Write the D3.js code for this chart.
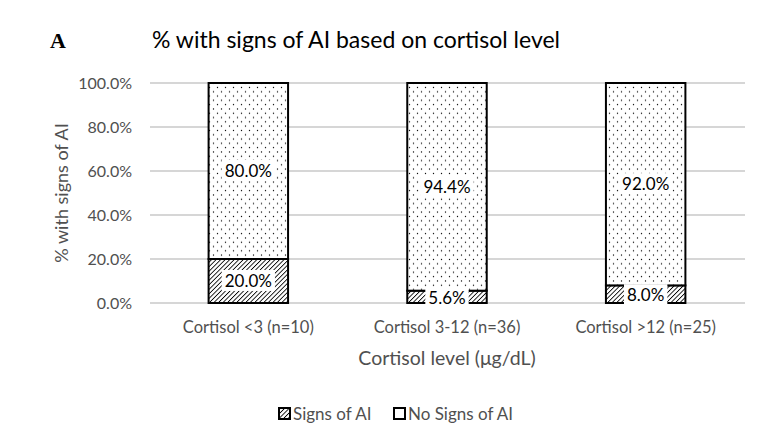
<!DOCTYPE html>
<html><head><meta charset="utf-8">
<script src="https://cdn.jsdelivr.net/npm/d3@7"></script>
<style>body{margin:0;background:#fff}svg{display:block}text{font-family:Lato,"Open Sans",sans-serif;fill:#262626}</style>
</head><body>
<svg id="c" width="780" height="444"></svg>
<script>
const categories = ["Cortisol <3 (n=10)", "Cortisol 3-12 (n=36)", "Cortisol >12 (n=25)"];
const signsAI = [20.0, 5.6, 8.0];
const noSignsAI = [80.0, 94.4, 92.0];
const yTicks = [0, 20, 40, 60, 80, 100];
const seriesNames = ["Signs of AI", "No Signs of AI"];

const svg = d3.select("#c");
const defs = svg.append("defs");
const hatch = defs.append("pattern").attr("id","hatch").attr("patternUnits","userSpaceOnUse")
  .attr("width",3.2).attr("height",4).attr("patternTransform","rotate(45)");
hatch.append("rect").attr("width",3.2).attr("height",4).attr("fill","#fff");
hatch.append("line").attr("x1",0).attr("y1",0).attr("x2",0).attr("y2",4).attr("stroke","#000").attr("stroke-width",1.7);
const dots = defs.append("pattern").attr("id","dots").attr("patternUnits","userSpaceOnUse")
  .attr("width",8).attr("height",8.6);
dots.append("rect").attr("width",8).attr("height",8.6).attr("fill","#fff");
dots.append("circle").attr("cx",1.5).attr("cy",1.5).attr("r",0.7).attr("fill","#000");
dots.append("circle").attr("cx",5.5).attr("cy",5.8).attr("r",0.7).attr("fill","#000");

const x = d3.scaleBand().domain(categories).range([149, 745]).paddingInner(0.6).paddingOuter(0.3);
const y = d3.scaleLinear().domain([0,100]).range([303, 83]);

// gridlines
svg.append("g").selectAll("line").data(yTicks).join("line")
  .attr("x1",150).attr("x2",745).attr("y1",d=>y(d)).attr("y2",d=>y(d))
  .attr("stroke","#c8c8c8").attr("stroke-width",1.3);

// y axis labels
const yAxis = d3.axisLeft(y).tickValues(yTicks).tickFormat(d=>d.toFixed(1)+"%").tickSize(0).tickPadding(0);
const gy = svg.append("g").attr("transform","translate(132,0)").call(yAxis);
gy.select(".domain").remove();
gy.attr("font-size",null).attr("font-family",null);
gy.selectAll("text").style("font-size","16px").style("fill","#505050");

// x axis labels
const xAxis = d3.axisBottom(x).tickSize(0).tickPadding(0);
const gx = svg.append("g").attr("transform","translate(0,321)").call(xAxis);
gx.select(".domain").remove();
gx.attr("font-size",null).attr("font-family",null);
gx.selectAll("text").style("font-size","16.5px").style("fill","#505050").attr("dy","0.71em");

// stacked bars
const data = categories.map((c,i)=>({c, a:signsAI[i], b:noSignsAI[i]}));
const bars = svg.append("g");
bars.selectAll("rect.a").data(data).join("rect").attr("class","a")
  .attr("x",d=>x(d.c)).attr("width",x.bandwidth())
  .attr("y",d=>y(d.a)).attr("height",d=>y(0)-y(d.a))
  .attr("fill","url(#hatch)").attr("stroke","#000").attr("stroke-width",2);
bars.selectAll("rect.b").data(data).join("rect").attr("class","b")
  .attr("x",d=>x(d.c)).attr("width",x.bandwidth())
  .attr("y",d=>y(d.a+d.b)).attr("height",d=>y(d.a)-y(d.a+d.b))
  .attr("fill","url(#dots)").attr("stroke","#000").attr("stroke-width",2);

// labels with white backgrounds
function addLabel(cx, cy, txt){
  const g = svg.append("g");
  const t = g.append("text").attr("x",cx).attr("y",cy).attr("text-anchor","middle")
    .attr("dy","0.35em").style("font-size","17px").style("fill","#000").text(txt);
  const bb = t.node().getBBox();
  g.insert("rect","text").attr("x",bb.x-3).attr("y",bb.y).attr("width",bb.width+6).attr("height",bb.height).attr("fill","#fff");
}
data.forEach(d=>{
  const cx = x(d.c)+x.bandwidth()/2;
  addLabel(cx, y(d.a/2)+ (d.a<10?1:0), d.a.toFixed(1)+"%");
  addLabel(cx, y(d.a+d.b/2), d.b.toFixed(1)+"%");
});

// titles
svg.append("text").attr("x",50).attr("y",48).style("font-family","'Liberation Serif', serif").style("font-weight","bold").style("font-size","22px").style("fill","#000").text("A");
svg.append("text").attr("x",152).attr("y",48).style("font-size","23px").style("fill","#000").text("% with signs of AI based on cortisol level");
svg.append("text").attr("transform","translate(68,193) rotate(-90)").attr("text-anchor","middle").style("font-size","18px").style("fill","#505050").text("% with signs of AI");
svg.append("text").attr("x",447).attr("y",365).attr("text-anchor","middle").style("font-size","19.5px").style("fill","#505050").text("Cortisol level (μg/dL)");

// legend
const legendX = [279, 394];
const leg = svg.append("g");
seriesNames.forEach((n,i)=>{
  leg.append("rect").attr("x",legendX[i]).attr("y",408).attr("width",11).attr("height",11)
    .attr("fill", i===0?"url(#hatch)":"#fff").attr("stroke","#000").attr("stroke-width",2);
  leg.append("text").attr("x",legendX[i]+14).attr("y",420).style("font-size","17px").style("fill","#505050").text(n);
});
</script>
</body></html>
